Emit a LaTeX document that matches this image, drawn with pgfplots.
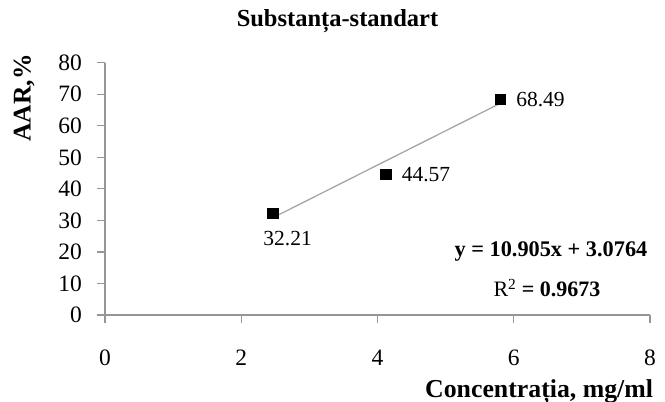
\documentclass[border=0pt]{standalone}
\usepackage{fontspec}
\setmainfont{Liberation Serif}
\usepackage{pgfplots}
\pgfplotsset{compat=1.18}
\definecolor{axgray}{RGB}{150,150,150}
\definecolor{trgray}{RGB}{165,165,165}
\begin{document}
\begin{tikzpicture}
\useasboundingbox (-105pt,-87pt) rectangle (560pt,315pt);
\clip (-105pt,-87pt) rectangle (560pt,315pt);
\begin{axis}[
 at={(0pt,0pt)}, anchor=south west,
 scale only axis, width=545pt, height=252.3pt,
 xmin=0, xmax=8, ymin=0, ymax=80,
 xtick={0,2,4,6,8}, ytick={0,10,20,30,40,50,60,70,80},
 axis x line=bottom, axis y line=left,
 axis line style={axgray, line width=1.2pt, -},
 tick style={axgray, line width=1.2pt},
 tick align=outside, major tick length=8pt,
 /pgf/number format/assume math mode=true,
 tick label style={font=\fontsize{23.5}{26}\selectfont},
 xticklabel style={anchor=center, yshift=-35pt},
 yticklabel style={anchor=east, inner sep=0pt, xshift=-15pt},
 clip=false,
]
\addplot[trgray, line width=1.3pt, mark=none] coordinates {(2.46,30.8) (5.8,67.1)};
\addplot[only marks, mark=square*, mark size=5.2pt, black] coordinates {(2.46,32.21) (4.12,44.57) (5.8,68.49)};
\addplot[draw=none, mark=none, point meta=explicit symbolic,
  nodes near coords, nodes near coords style={anchor=west, inner sep=0pt, xshift=16pt, font=\fontsize{21.5}{24}\selectfont}]
  coordinates {(4.12,44.57) [44.57] (5.8,68.49) [68.49]};
\addplot[draw=none, mark=none, point meta=explicit symbolic,
  nodes near coords, nodes near coords style={anchor=center, inner sep=0pt, xshift=15pt, yshift=-25pt, font=\fontsize{21.5}{24}\selectfont}]
  coordinates {(2.46,32.21) [32.21]};
\end{axis}
\node[anchor=base, font=\fontsize{24.5}{28}\selectfont\bfseries] at (232.5pt,288pt) {Substanța-standart};
\node[rotate=90, font=\fontsize{25.5}{28}\selectfont\bfseries] at (-81pt,217pt) {AAR,\%};
\node[anchor=base west, inner sep=0pt, font=\fontsize{25.8}{29}\selectfont\bfseries] at (320pt,-82pt) {Concentrația, mg/ml};
\node[font=\fontsize{22.3}{25}\selectfont\bfseries] at (446pt,64pt) {y = 10.905x + 3.0764};
\node[font=\fontsize{22}{25}\selectfont] at (442pt,27pt) {R\textsuperscript{2} \textbf{= 0.9673}};
\end{tikzpicture}
\end{document}
